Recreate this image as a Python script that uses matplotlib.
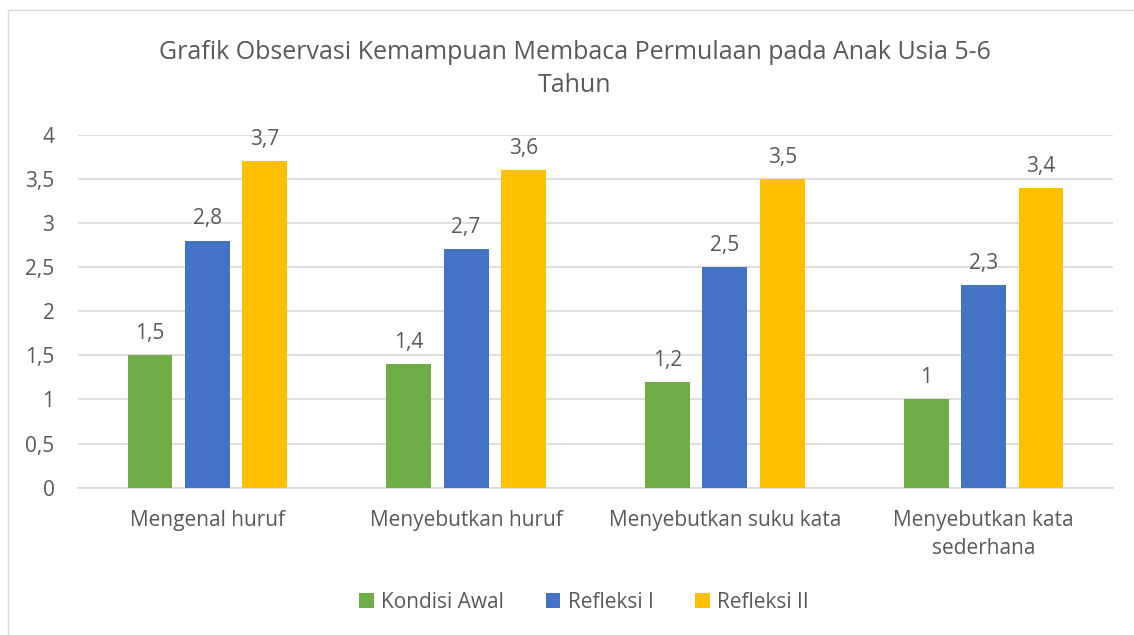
"""
Grafik observasi kemampuan membaca permulaan
"""

import matplotlib
matplotlib.use('Agg')
import matplotlib.pyplot as plt
import numpy as np
from matplotlib.patches import Rectangle

categories = ['Mengenal huruf', 'Menyebutkan huruf', 'Menyebutkan suku kata',
              'Menyebutkan kata\nsederhana']
kondisi_awal = [1.5, 1.4, 1.2, 1.0]
refleksi_1 = [2.8, 2.7, 2.5, 2.3]
refleksi_2 = [3.7, 3.6, 3.5, 3.4]
series_names = ['Kondisi Awal', 'Refleksi I', 'Refleksi II']
y_ticks = [0, 0.5, 1, 1.5, 2, 2.5, 3, 3.5, 4]

colors = ['#70AD47', '#4472C4', '#FFC000']
text_color = '#595959'

plt.rcParams['font.family'] = ['Open Sans', 'DejaVu Sans']


def fmt(v):
    s = ('%g' % v).replace('.', ',')
    return s


fig = plt.figure(figsize=(11.34, 6.35), dpi=100)
ax = fig.add_axes([78 / 1134, 1 - 487.7 / 635, (1113 - 78) / 1134, (487.7 - 134.7) / 635])

# chart border
fig.patches.append(Rectangle((8 / 1134, -0.01), 1.0, 1 - 10 / 635 + 0.01,
                             transform=fig.transFigure, fill=False,
                             edgecolor='#D9D9D9', linewidth=1.0))

x = np.arange(len(categories))
width = 0.173
step = 0.2215
data = [kondisi_awal, refleksi_1, refleksi_2]

for i, (vals, name, c) in enumerate(zip(data, series_names, colors)):
    pos = x + (i - 1) * step
    bars = ax.bar(pos, vals, width, color=c, label=name, zorder=3)
    for b, v in zip(bars, vals):
        ax.annotate(fmt(v), (b.get_x() + b.get_width() / 2, v),
                    xytext=(0, 8), textcoords='offset points',
                    ha='center', va='bottom', fontsize=15, color=text_color)

ax.set_xlim(-0.5, len(categories) - 0.5)
ax.set_ylim(0, 4)
ax.set_yticks(y_ticks)
ax.set_yticklabels([fmt(t) for t in y_ticks])
ax.set_xticks(x)
ax.set_xticklabels(categories, linespacing=1.45)

ax.grid(axis='y', color='#D9D9D9', linewidth=1.2, zorder=0)
for s in ['top', 'right', 'left']:
    ax.spines[s].set_visible(False)
ax.spines['bottom'].set_color('#D9D9D9')
ax.spines['bottom'].set_linewidth(1.2)
ax.tick_params(axis='both', length=0, labelsize=15, colors=text_color)
ax.tick_params(axis='y', pad=17)
ax.tick_params(axis='x', pad=16)

fig.text(0.507, 1 - 69 / 635,
         'Grafik Observasi Kemampuan Membaca Permulaan pada Anak Usia 5-6\nTahun',
         ha='center', va='center', fontsize=18, color=text_color, linespacing=1.4)

handles, labels = ax.get_legend_handles_labels()
fig.legend(handles, labels, loc='center', bbox_to_anchor=(0.515, 1 - 602 / 635),
           ncol=3, frameon=False, fontsize=15, labelcolor=text_color,
           handlelength=0.7, handleheight=0.7, handletextpad=0.35, columnspacing=2.0)

fig.savefig('out.png', dpi=100)
